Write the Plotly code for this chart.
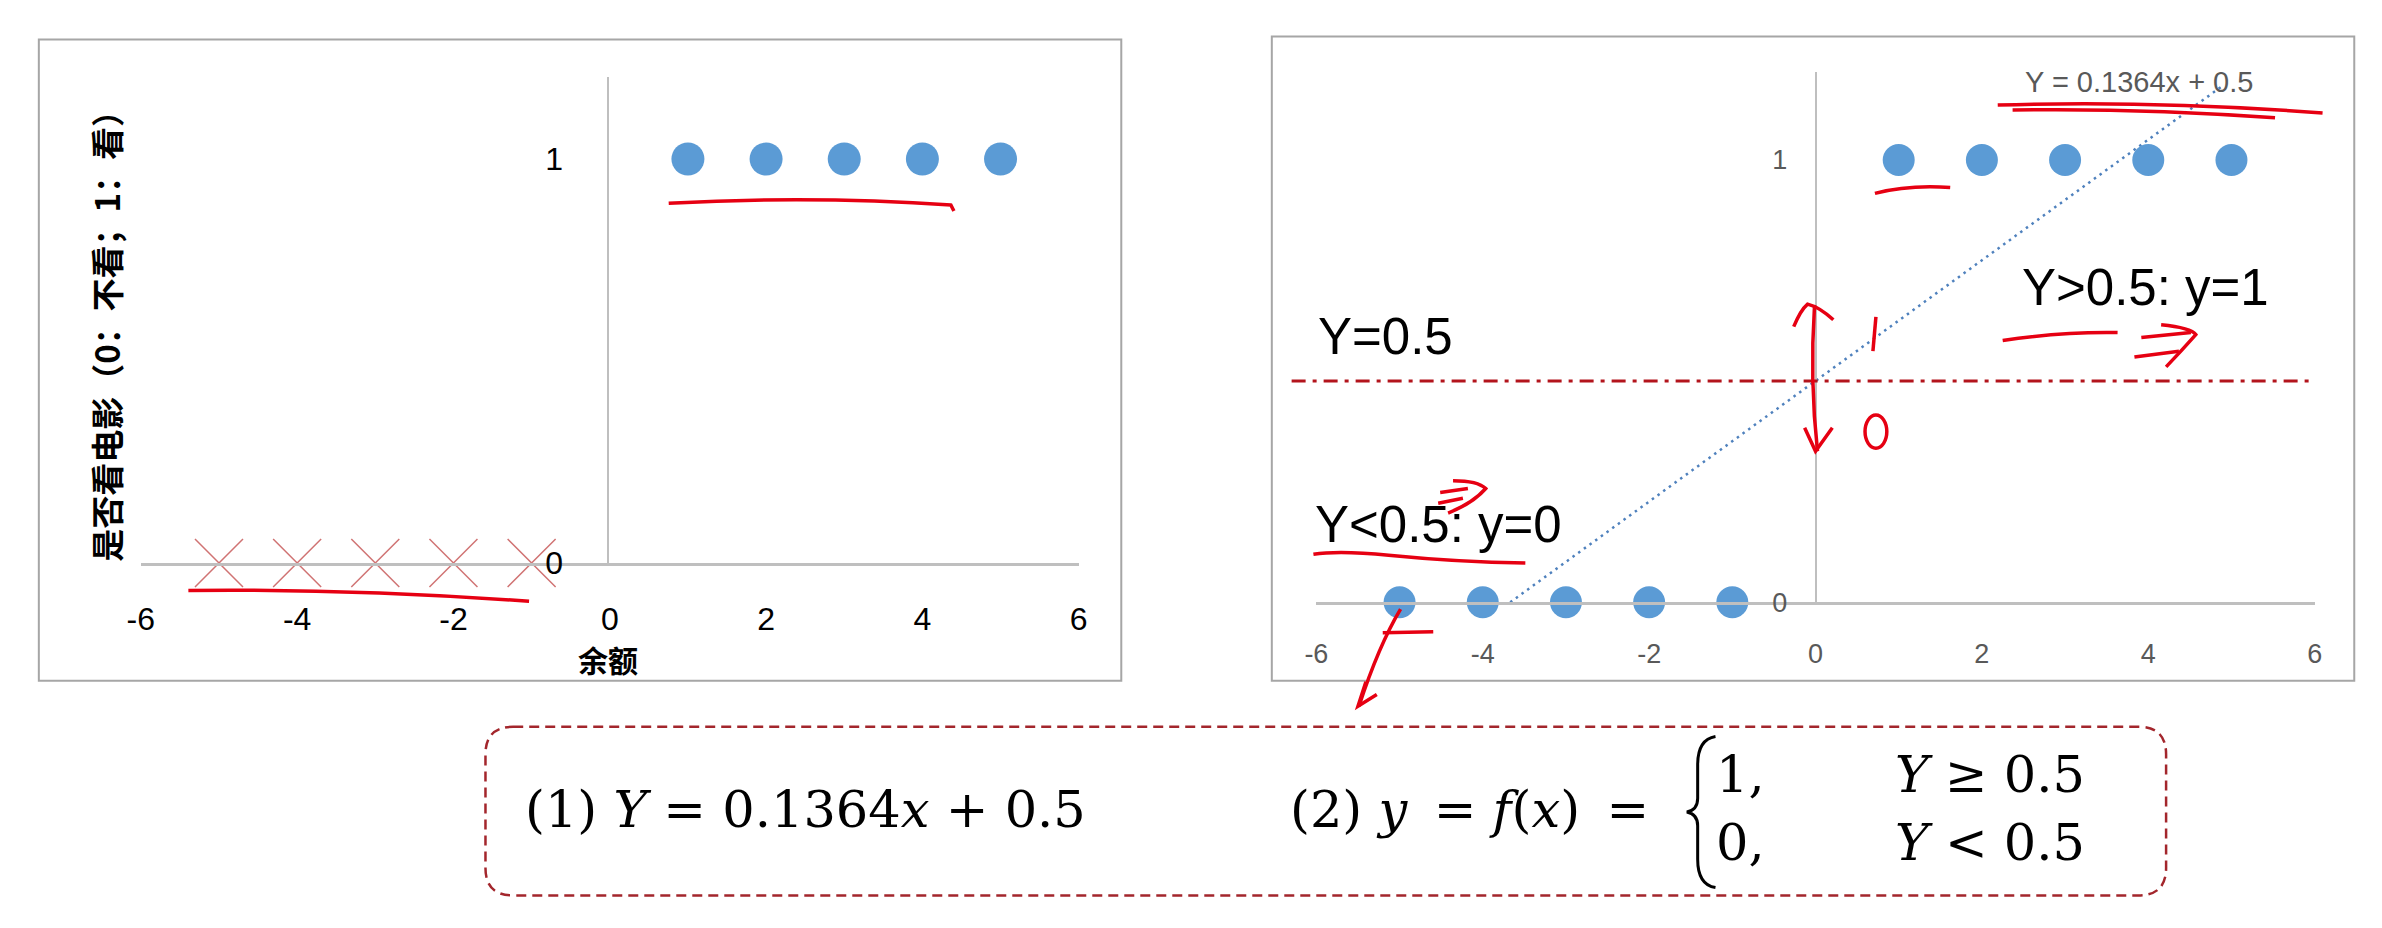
import plotly.graph_objects as go

# ---------------- data ----------------
x_watch = [1, 2, 3, 4, 5]          # 看电影 (y = 1)
y_watch = [1, 1, 1, 1, 1]
x_nowatch = [-5, -4, -3, -2, -1]   # 不看 (y = 0)
y_nowatch = [0, 0, 0, 0, 0]
trend_x = [-3.67, 4.88]            # Excel linear trendline
trend_y = [0.0, 1.166]
threshold = 0.5
x_ticks = [-6, -4, -2, 0, 2, 4, 6]
x_ticktext = ["-6", "-4", "-2", "0", "2", "4", "6"]
y_ticks = [0, 1]
y_ticktext = ["0", "1"]

# ---------------- helpers (pixel -> paper) ----------------
W, H = 2382, 928
def px(x): return x / W
def py(y): return 1 - y / H

def path(*segs):
    out = []
    for s in segs:
        cmd, pts = s[0], s[1:]
        coords = " ".join(f"{px(pts[i]):.5f},{py(pts[i+1]):.5f}" for i in range(0, len(pts), 2))
        out.append(f"{cmd}{coords}")
    return " ".join(out)

SANS = "Liberation Sans, Arial, sans-serif"
SERIF = "DejaVu Serif, Liberation Serif, serif"
CJK = "Noto Sans CJK SC, sans-serif"
BLUE = "#5B9BD5"
AXIS = "#BFBFBF"
RED = "#E60012"
TS = "\u2009"  # thin space

fig = go.Figure()

# left chart
fig.add_trace(go.Scatter(x=x_watch, y=y_watch, mode="markers", xaxis="x", yaxis="y",
                         marker=dict(size=33, color=BLUE), cliponaxis=False, showlegend=False))
fig.add_trace(go.Scatter(x=x_nowatch, y=y_nowatch, mode="markers", xaxis="x", yaxis="y",
                         marker=dict(size=48, symbol="x-thin",
                                     line=dict(width=1.5, color="rgba(200,90,90,0.85)")),
                         cliponaxis=False, showlegend=False))
# right chart
fig.add_trace(go.Scatter(x=trend_x, y=trend_y, mode="lines", xaxis="x2", yaxis="y2",
                         line=dict(color="#4F81BD", width=2.5, dash="2.5px,4.5px"),
                         cliponaxis=False, showlegend=False))
fig.add_trace(go.Scatter(x=x_watch, y=y_watch, mode="markers", xaxis="x2", yaxis="y2",
                         marker=dict(size=32, color=BLUE), cliponaxis=False, showlegend=False))
fig.add_trace(go.Scatter(x=x_nowatch, y=y_nowatch, mode="markers", xaxis="x2", yaxis="y2",
                         marker=dict(size=32, color=BLUE), cliponaxis=False, showlegend=False))

common_x = dict(range=[-6, 6], tickvals=x_ticks, ticktext=x_ticktext, showgrid=False, zeroline=False,
                showline=True, linecolor=AXIS, linewidth=3, ticks="")
common_y = dict(tickvals=y_ticks, ticktext=y_ticktext, showgrid=False, zeroline=False, showline=True,
                linecolor=AXIS, linewidth=1.5, ticks="", anchor="free")

fig.update_layout(
    width=W, height=H, margin=dict(l=0, r=0, t=0, b=0),
    paper_bgcolor="white", plot_bgcolor="rgba(0,0,0,0)",
    xaxis=dict(domain=[px(120), px(1067)], anchor="y", ticklabelstandoff=26,
               tickfont=dict(family=SANS, size=32, color="black"), **common_x),
    yaxis=dict(domain=[py(566), py(70)], range=[0, 496 / 412], position=px(592),
               ticklabelstandoff=38, tickfont=dict(family=SANS, size=32, color="black"), **common_y),
    xaxis2=dict(domain=[px(1307), px(2315)], anchor="y2", ticklabelstandoff=26,
                tickfont=dict(family=SANS, size=27, color="#595959"), **common_x),
    yaxis2=dict(domain=[py(606), py(65)], range=[0, 541 / 451], position=px(1811),
                ticklabelstandoff=22, tickfont=dict(family=SANS, size=27, color="#595959"), **common_y),
)
fig.update_layout(xaxis2_linewidth=2.5)

shapes = []
# panel borders
shapes.append(dict(type="rect", xref="paper", yref="paper", x0=px(17), x1=px(1110), y0=py(686), y1=py(32),
                   line=dict(color="#A6A6A6", width=2), layer="below"))
shapes.append(dict(type="rect", xref="paper", yref="paper", x0=px(1262), x1=px(2355), y0=py(686), y1=py(29),
                   line=dict(color="#A6A6A6", width=2), layer="below"))
# threshold line Y = 0.5
shapes.append(dict(type="line", xref="paper", yref="y2", x0=px(1282), x1=px(2313), y0=threshold, y1=threshold,
                   line=dict(color="#B3141C", width=3, dash="14px,7px,4px,7px")))
# formula box (rounded, dashed)
bx0, bx1, by0, by1, r = 468, 2165, 733, 905, 28
shapes.append(dict(type="path", xref="paper", yref="paper",
                   path=path(("M", bx0 + r, by0), ("L", bx1 - r, by0), ("Q", bx1, by0, bx1, by0 + r),
                             ("L", bx1, by1 - r), ("Q", bx1, by1, bx1 - r, by1), ("L", bx0 + r, by1),
                             ("Q", bx0, by1, bx0, by1 - r), ("L", bx0, by0 + r), ("Q", bx0, by0, bx0 + r, by0)),
                   line=dict(color="#A3262C", width=2.5, dash="10px,6px")))
# curly brace of the piecewise function
shapes.append(dict(type="path", xref="paper", yref="paper",
                   path=path(("M", 1710, 743), ("Q", 1692, 746, 1692, 772), ("L", 1692, 806),
                             ("Q", 1692, 818, 1681, 820), ("Q", 1692, 822, 1692, 834), ("L", 1692, 868),
                             ("Q", 1692, 894, 1710, 897)),
                   line=dict(color="black", width=3)))

# hand-drawn red pen strokes
strokes = [
    path(("M", 653, 199), ("Q", 800, 191, 938, 201), ("L", 941, 207)),
    path(("M", 168, 594), ("Q", 330, 592, 512, 605)),
    path(("M", 1995, 99), ("Q", 2150, 94, 2323, 107)),
    path(("M", 2010, 104), ("Q", 2140, 102, 2275, 112)),
    path(("M", 1871, 189), ("Q", 1905, 180, 1947, 183)),
    path(("M", 1810, 303), ("Q", 1805, 380, 1813, 452)),
    path(("M", 1789, 325), ("Q", 1796, 308, 1803, 302), ("Q", 1815, 305, 1829, 318)),
    path(("M", 1800, 428), ("L", 1811, 452), ("L", 1828, 428)),
    path(("M", 1872, 315), ("L", 1869, 350)),
    path(("M", 2000, 339), ("Q", 2060, 330, 2116, 331)),
    path(("M", 2140, 336), ("L", 2190, 331)),
    path(("M", 2133, 356), ("L", 2178, 350)),
    path(("M", 2160, 323), ("Q", 2190, 326, 2195, 333), ("Q", 2180, 350, 2165, 366)),
    path(("M", 1432, 494), ("L", 1460, 490)),
    path(("M", 1430, 505), ("L", 1455, 500)),
    path(("M", 1445, 482), ("Q", 1470, 482, 1478, 490), ("Q", 1465, 505, 1440, 515)),
    path(("M", 1304, 557), ("Q", 1330, 553, 1380, 558), ("Q", 1450, 565, 1518, 566)),
    path(("M", 1392, 613), ("Q", 1370, 650, 1350, 712)),
    path(("M", 1357, 687), ("L", 1349, 712), ("L", 1368, 700)),
    path(("M", 1374, 637), ("L", 1425, 636)),
]
for s in strokes:
    shapes.append(dict(type="path", xref="paper", yref="paper", path=s,
                       line=dict(color=RED, width=3.5)))
shapes.append(dict(type="circle", xref="paper", yref="paper", x0=px(1861), x1=px(1883), y0=py(449), y1=py(415),
                   line=dict(color=RED, width=3.5)))
fig.update_layout(shapes=shapes)

ann = []
def txt(text, x, y, size, family=SANS, color="black", xanchor="left", yanchor="middle", angle=0):
    ann.append(dict(text=text, x=px(x), y=py(y), xref="paper", yref="paper", showarrow=False,
                    xanchor=xanchor, yanchor=yanchor, textangle=angle,
                    font=dict(family=family, size=size, color=color)))

# axis titles, left chart
txt("<b>是否看电影（0：不看；1：看）</b>", 84, 326, 33, family=CJK, xanchor="center", angle=-90)
txt("<b>余额</b>", 592, 664, 30, family=CJK, xanchor="center")
# right chart labels
txt("Y = 0.1364x + 0.5", 2138, 75, 29, color="#595959", xanchor="center")
txt("Y=0.5", 1307, 335, 51)
txt("Y&gt;0.5: y=1", 2017, 285, 51)
txt("Y&lt;0.5: y=0", 1304, 527, 51)
# formulas
txt("(1) <i>Y</i> = 0.1364<i>x</i> + 0.5", 506, 817, 51, family=SERIF)
txt(f"(2) <i>y</i>{TS} = <i>f</i>(<i>x</i>){TS} =", 1278, 817, 51, family=SERIF)
txt("1,", 1709, 782, 51, family=SERIF)
txt("0,", 1709, 851, 51, family=SERIF)
txt("<i>Y</i> ≥ 0.5", 2085, 782, 51, family=SERIF, xanchor="right")
txt("<i>Y</i> &lt; 0.5", 2085, 851, 51, family=SERIF, xanchor="right")
fig.update_layout(annotations=ann)

fig.write_html("out.html")
